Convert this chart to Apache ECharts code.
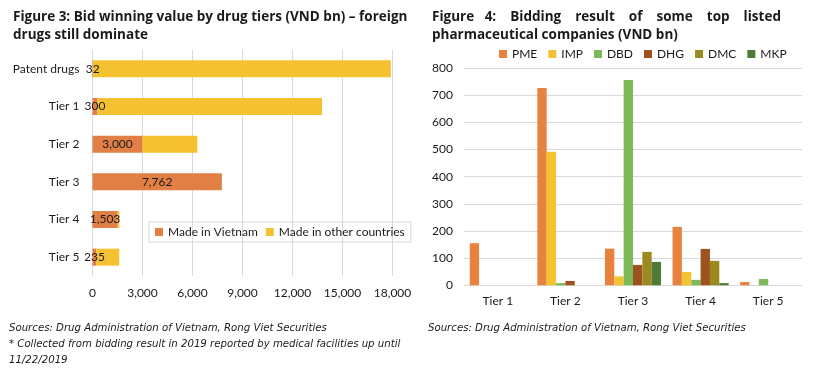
<!DOCTYPE html>
<html><head><meta charset="utf-8">
<script src="https://cdn.jsdelivr.net/npm/echarts@6/dist/echarts.min.js"></script>
<style>html,body{margin:0;padding:0;background:#fff}#c{width:816px;height:371px}</style>
</head><body><div id="c"></div>
<script>
// Figure 3 data
const tiers3 = ['Patent drugs', 'Tier 1', 'Tier 2', 'Tier 3', 'Tier 4', 'Tier 5'];
const madeInVietnam = [32, 300, 3000, 7762, 1503, 235];
const madeElsewhere = [17870, 13470, 3290, 0, 110, 1370];
const xTicks3 = [0, 3000, 6000, 9000, 12000, 15000, 18000];

// Figure 4 data
const tiers4 = ['Tier 1', 'Tier 2', 'Tier 3', 'Tier 4', 'Tier 5'];
const PME = [155, 726, 135, 215, 12];
const IMP = [0, 492, 33, 49, 0];
const DBD = [0, 8, 756, 20, 23];
const DHG = [0, 16, 75, 134, 0];
const DMC = [0, 0, 123, 90, 0];
const MKP = [0, 0, 86, 8, 0];
const companies = ['PME', 'IMP', 'DBD', 'DHG', 'DMC', 'MKP'];
const companyData = [PME, IMP, DBD, DHG, DMC, MKP];
const companyColors = ['#E8823F', '#F4C430', '#7DB956', '#9E521F', '#9C8A1F', '#4F7B37'];

const FONT = 'Lato, "Noto Sans", sans-serif';
const TFONT = '"Open Sans", "Noto Sans", sans-serif';
const TXT = '#1a1a1a';
const fmt = v => Number(v).toLocaleString('en-US');

const chart = echarts.init(document.getElementById('c'));
chart.setOption({
  animation: false,
  textStyle: { fontFamily: FONT, color: TXT },
  title: [
    { text: 'Figure 3: Bid winning value by drug tiers (VND bn) – foreign\ndrugs still dominate',
      left: 8, top: 3, textStyle: { fontFamily: TFONT, fontWeight: 'bold', fontSize: 13.5, lineHeight: 18, color: '#1a1a1a' } },
    { text: 'Figure   4:    Bidding    result    of    some    top    listed\npharmaceutical companies (VND bn)',
      left: 427, top: 3, textStyle: { fontFamily: TFONT, fontWeight: 'bold', fontSize: 13.5, lineHeight: 18, color: '#1a1a1a' } }
  ],
  legend: [
    { data: ['Made in Vietnam', 'Made in other countries'], left: 149, top: 222, orient: 'horizontal',
      icon: 'rect', itemWidth: 8, itemHeight: 8, itemGap: 8, padding: [4, 6, 4, 6],
      borderColor: '#d9d9d9', borderWidth: 1, textStyle: { fontFamily: FONT, fontSize: 12, color: TXT } },
    { data: companies, left: 499, top: 48, icon: 'rect', itemWidth: 8, itemHeight: 8, itemGap: 11,
      textStyle: { fontFamily: FONT, fontSize: 12, color: TXT }, padding: 0 }
  ],
  grid: [
    { left: 92.5, top: 50, width: 300, height: 226 },
    { left: 464, top: 68, width: 338, height: 217.3 }
  ],
  xAxis: [
    { type: 'value', gridIndex: 0, min: xTicks3[0], max: xTicks3[xTicks3.length - 1], interval: 3000,
      axisLine: { show: false }, axisTick: { show: false },
      splitLine: { lineStyle: { color: '#d9d9d9' } },
      axisLabel: { formatter: v => fmt(v), fontSize: 12, color: TXT, margin: 11, fontFamily: FONT } },
    { type: 'category', gridIndex: 1, data: tiers4,
      axisLine: { lineStyle: { color: '#d9d9d9' } }, axisTick: { show: false },
      axisLabel: { fontSize: 12, color: TXT, margin: 10, fontFamily: FONT } }
  ],
  yAxis: [
    { type: 'category', gridIndex: 0, data: tiers3, inverse: true,
      axisLine: { show: false }, axisTick: { show: false },
      axisLabel: { fontSize: 12, color: TXT, margin: 13, fontFamily: FONT } },
    { type: 'value', gridIndex: 1, min: 0, max: 800, interval: 100,
      axisLine: { show: false }, axisTick: { show: false },
      splitLine: { lineStyle: { color: '#d9d9d9' } },
      axisLabel: { fontSize: 12, color: TXT, margin: 11, fontFamily: FONT } }
  ],
  series: [
    { name: 'Made in Vietnam', type: 'bar', stack: 'a', xAxisIndex: 0, yAxisIndex: 0, data: madeInVietnam,
      barWidth: 17, itemStyle: { color: '#E27F45' },
      label: { show: true, position: 'inside', formatter: p => fmt(p.value), color: '#1a1a1a', fontSize: 12, fontFamily: FONT } },
    { name: 'Made in other countries', type: 'bar', stack: 'a', xAxisIndex: 0, yAxisIndex: 0, data: madeElsewhere,
      barWidth: 17, itemStyle: { color: '#F4C230' } }
  ].concat(companies.map((c, i) => ({
      name: c, type: 'bar', xAxisIndex: 1, yAxisIndex: 1, data: companyData[i],
      barGap: '0%', barCategoryGap: '17%', itemStyle: { color: companyColors[i] }
  }))),
  graphic: [
    { type: 'text', left: 9, top: 320, style: { text: 'Sources: Drug Administration of Vietnam, Rong Viet Securities\n* Collected from bidding result in 2019 reported by medical facilities up until\n11/22/2019',
        font: 'italic 11.3px "Liberation Sans Narrow", "DejaVu Sans Condensed", sans-serif', lineHeight: 16, fill: '#1a1a1a' } },
    { type: 'text', left: 428, top: 320, style: { text: 'Sources: Drug Administration of Vietnam, Rong Viet Securities',
        font: 'italic 11.3px "Liberation Sans Narrow", "DejaVu Sans Condensed", sans-serif', lineHeight: 16, fill: '#1a1a1a' } }
  ]
});
</script></body></html>
